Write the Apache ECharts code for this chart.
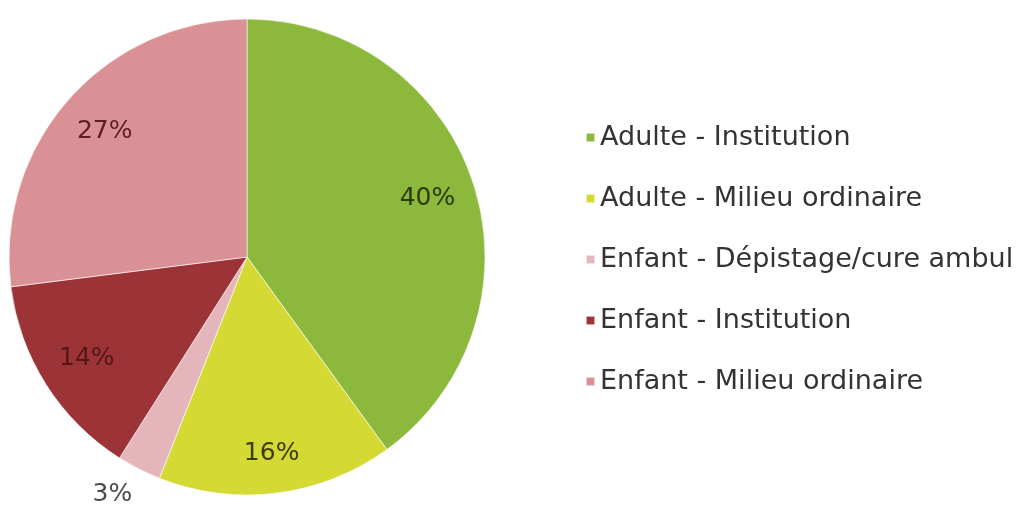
<!DOCTYPE html>
<html>
<head>
<meta charset="utf-8">
<script src="https://cdn.jsdelivr.net/npm/echarts@6/dist/echarts.min.js"></script>
<style>
  html, body { margin: 0; padding: 0; background: #ffffff; }
  #chart { width: 1018px; height: 509px; }
</style>
</head>
<body>
<div id="chart"></div>
<script>
// Répartition des prises en charge
const categories = [
  'Adulte - Institution',
  'Adulte - Milieu ordinaire',
  'Enfant - Dépistage/cure ambul',
  'Enfant - Institution',
  'Enfant - Milieu ordinaire'
];
const shares = [40, 16, 3, 14, 27];
const sliceColors = ['#8cb83b', '#d4d934', '#e4b6bb', '#9c3437', '#da9195'];
const labelColors = ['#2c3a0e', '#3b3c08', '#4a4a4a', '#551619', '#5a1e24'];

const FONT = 'DejaVu Sans';
const R = 238;

// radial offset of each label from the rim (negative = inside the sector)
const labelDepth = [-48, -40, 28, -48, -48];
// half label width, so the text is centred on its anchor point
const labelHalf = [-28, -28, -6, -28, -28];

const data = categories.map((name, i) => ({
  name: name,
  value: shares[i],
  itemStyle: { color: sliceColors[i] },
  label: { color: labelColors[i] },
  labelLine: { show: false, length: labelDepth[i], length2: labelHalf[i] }
}));

const chart = echarts.init(document.getElementById('chart'), null, { renderer: 'canvas' });
chart.setOption({
  backgroundColor: '#ffffff',
  animation: false,
  legend: {
    orient: 'vertical',
    left: 580,
    top: 119,
    itemWidth: 9,
    itemHeight: 9,
    itemGap: 34,
    icon: 'rect',
    data: categories,
    textStyle: { fontFamily: FONT, fontSize: 27, color: '#333333' }
  },
  series: [{
    type: 'pie',
    center: [247, 257],
    radius: [0, R],
    startAngle: 90,
    clockwise: true,
    avoidLabelOverlap: false,
    silent: true,
    itemStyle: { borderColor: 'rgba(255,255,255,0.6)', borderWidth: 1 },
    label: {
      show: true,
      position: 'outside',
      distanceToLabelLine: 0,
      formatter: '{c}%',
      fontFamily: FONT,
      fontSize: 25
    },
    data: data
  }]
});
</script>
</body>
</html>
